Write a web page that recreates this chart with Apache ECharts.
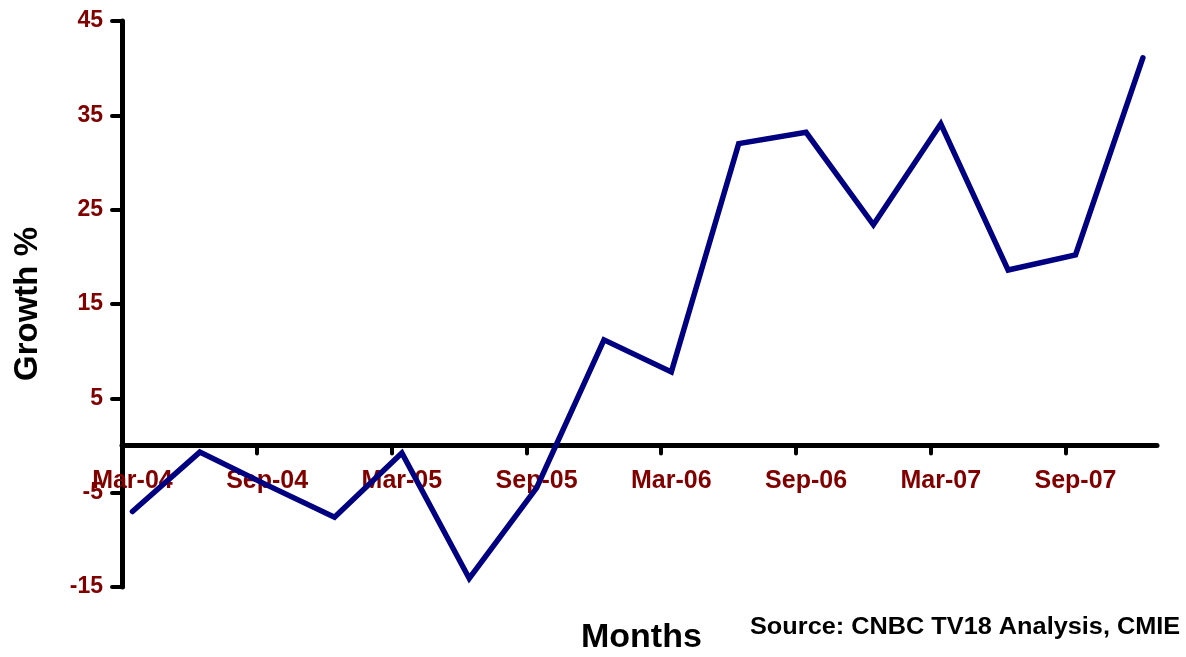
<!DOCTYPE html>
<html>
<head>
<meta charset="utf-8">
<script src="https://cdn.jsdelivr.net/npm/echarts@6/dist/echarts.min.js"></script>
<style>
html,body{margin:0;padding:0;background:#fff;}
#chart{width:1186px;height:657px;}
</style>
</head>
<body>
<div id="chart"></div>
<script>
var categories = ['Mar-04','Jun-04','Sep-04','Dec-04','Mar-05','Jun-05','Sep-05','Dec-05',
                  'Mar-06','Jun-06','Sep-06','Dec-06','Mar-07','Jun-07','Sep-07','Dec-07'];
var growth = [-7.0, -0.7, -4.2, -7.6, -0.8, -14.1, -4.5, 11.2,
              7.8, 32.0, 33.2, 23.4, 34.1, 18.6, 20.2, 41.1];
var yTicks = [-15, -5, 5, 15, 25, 35, 45];
var labelIdx = [0, 2, 4, 6, 8, 10, 12, 14];
var tickPos = [1.85, 3.85, 5.85, 7.85, 9.85, 11.85, 13.85];

var seriesData = growth.map(function (v, i) { return [i, v]; });
var labelFont = 'Liberation Sans, Arial, sans-serif';
var gridTop = 21, gridBottom = 70, H = 657;
var plotH = H - gridTop - gridBottom;
var yMin = yTicks[0], yMax = yTicks[yTicks.length - 1];
// shift x axis up from the grid bottom to the zero line
var zeroOffset = plotH * (0 - yMin) / (yMax - yMin);

var chart = echarts.init(document.getElementById('chart'));
chart.setOption({
  animation: false,
  backgroundColor: '#ffffff',
  grid: { left: 122, right: 29, top: gridTop, bottom: gridBottom, containLabel: false },
  xAxis: {
    type: 'value',
    min: -0.155,
    max: 15.21,
    position: 'bottom',
    offset: -zeroOffset,
    splitLine: { show: false },
    axisLine: { onZero: false, lineStyle: { color: '#000', width: 5, cap: 'round' } },
    axisTick: { show: true, customValues: tickPos, length: 8, inside: false,
                lineStyle: { color: '#000', width: 4, cap: 'round' } },
    axisLabel: {
      customValues: labelIdx,
      formatter: function (v) { return categories[Math.round(v)]; },
      color: '#800000', fontWeight: 'bold', fontSize: 25, fontFamily: labelFont,
      margin: 23, showMinLabel: true, showMaxLabel: true
    }
  },
  yAxis: {
    type: 'value',
    min: yMin,
    max: yMax,
    interval: 10,
    splitLine: { show: false },
    axisLine: { show: true, onZero: false, lineStyle: { color: '#000', width: 5, cap: 'round' } },
    axisTick: { show: true, length: 10, lineStyle: { color: '#000', width: 4, cap: 'round' } },
    axisLabel: { color: '#800000', fontWeight: 'bold', fontSize: 23, fontFamily: labelFont, margin: 19 },
    name: 'Growth %',
    nameLocation: 'middle',
    nameGap: 78,
    nameRotate: 90,
    nameTextStyle: { color: '#000', fontWeight: 'bold', fontSize: 33, fontFamily: labelFont }
  },
  series: [{
    type: 'line',
    data: seriesData,
    showSymbol: false,
    symbol: 'none',
    lineStyle: { color: '#000080', width: 5.5, cap: 'round', join: 'miter' },
    z: 1
  }],
  graphic: [
    { type: 'text', left: 581, top: 621,
      style: { text: 'Months', fill: '#000', font: 'bold 34px ' + labelFont } },
    { type: 'text', x: 750, y: 616, scaleX: 1.1,
      style: { text: 'Source: CNBC TV18 Analysis, CMIE', fill: '#000', font: 'bold 23px ' + labelFont } }
  ]
});
</script>
</body>
</html>
